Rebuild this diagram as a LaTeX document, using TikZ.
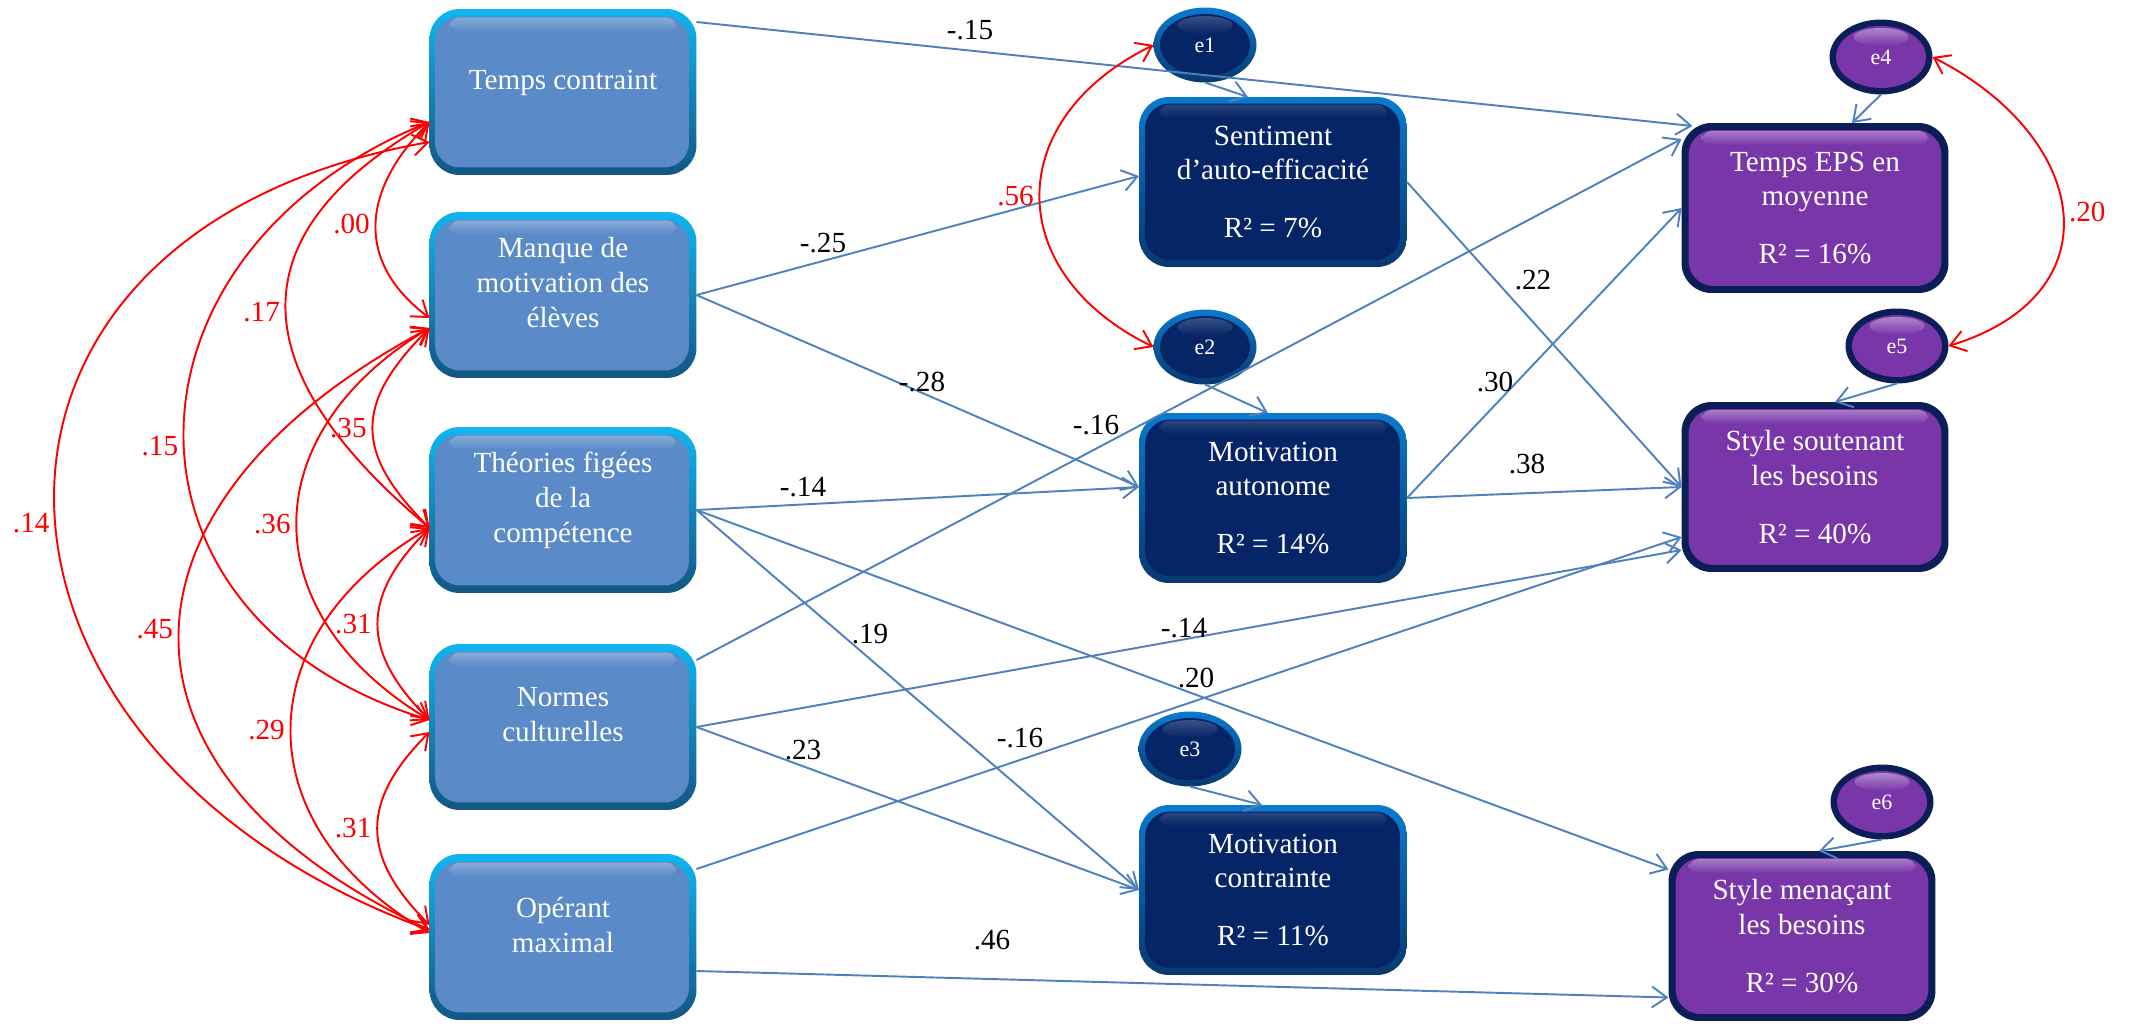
\documentclass[tikz,border=0pt]{standalone}
\usepackage{fontspec}
\setmainfont{Liberation Serif}
\usepackage{tikz}
\usetikzlibrary{arrows.meta,shapes.geometric,positioning}

\definecolor{exofill}{HTML}{5A8AC8}
\definecolor{exotop}{HTML}{10B6F0}
\definecolor{exobot}{HTML}{145683}
\definecolor{medfill}{HTML}{062566}
\definecolor{medtop}{HTML}{0A7ACF}
\definecolor{medbot}{HTML}{09386F}
\definecolor{outfill}{HTML}{7836A8}
\definecolor{outedge}{HTML}{0C1E58}
\definecolor{pathblue}{HTML}{4F81BD}
\definecolor{covred}{HTML}{FF0000}

\newcommand{\bxfont}{\fontsize{16.6}{19.9}\selectfont}
\newcommand{\errfont}{\fontsize{12.5}{14}\selectfont}

\tikzset{>={Straight Barb[length=0.3cm,width=0.42cm]},
  box/.style={rectangle, rounded corners=0.6cm, minimum width=5.34cm, minimum height=3.32cm,
    align=center, text=white, font=\bxfont, inner sep=2pt, outer sep=0pt},
  exo/.style={box, top color=exotop, bottom color=exobot, text depth=0.5cm,
    path picture={
      \fill[exofill, rounded corners=0.5cm] ([shift={(0.11cm,-0.15cm)}]path picture bounding box.north west) rectangle ([shift={(-0.15cm,0.15cm)}]path picture bounding box.south east);
      \shade[top color=exofill!72!white, bottom color=exofill, rounded corners=0.2cm] ([shift={(0.4cm,-0.17cm)}]path picture bounding box.north west) rectangle ([shift={(-0.4cm,-0.45cm)}]path picture bounding box.north east);}},
  med/.style={box, minimum width=5.36cm, minimum height=3.4cm, top color=medtop, bottom color=medbot,
    path picture={
      \fill[medfill, rounded corners=0.5cm] ([shift={(0.12cm,-0.13cm)}]path picture bounding box.north west) rectangle ([shift={(-0.14cm,0.14cm)}]path picture bounding box.south east);
      \shade[top color=medfill!86!white, bottom color=medfill, rounded corners=0.2cm] ([shift={(0.4cm,-0.15cm)}]path picture bounding box.north west) rectangle ([shift={(-0.4cm,-0.43cm)}]path picture bounding box.north east);}},
  res/.style={box, minimum height=3.4cm, fill=outedge,
    path picture={
      \fill[outfill, rounded corners=0.5cm] ([shift={(0.14cm,-0.14cm)}]path picture bounding box.north west) rectangle ([shift={(-0.14cm,0.14cm)}]path picture bounding box.south east);
      \shade[top color=outfill!65!white, bottom color=outfill, rounded corners=0.2cm] ([shift={(0.4cm,-0.16cm)}]path picture bounding box.north west) rectangle ([shift={(-0.4cm,-0.44cm)}]path picture bounding box.north east);}},
  err/.style={ellipse, minimum width=2.06cm, minimum height=1.5cm, inner sep=0pt, outer sep=0pt, text=white, font=\errfont},
  errmed/.style={err, top color=medtop, bottom color=medbot,
    path picture={
      \fill[medfill] (path picture bounding box.center) ellipse [x radius=0.9cm, y radius=0.62cm];
      \shade[top color=medfill!80!white, bottom color=medfill] ([yshift=0.4cm]path picture bounding box.center) ellipse [x radius=0.55cm, y radius=0.18cm];}},
  errres/.style={err, fill=outedge,
    path picture={
      \fill[outfill] (path picture bounding box.center) ellipse [x radius=0.9cm, y radius=0.62cm];
      \shade[top color=outfill!60!white, bottom color=outfill] ([yshift=0.4cm]path picture bounding box.center) ellipse [x radius=0.55cm, y radius=0.18cm];}},
  reg/.style={->, pathblue, line width=1.1pt},
  cov/.style={<->, covred, line width=1.1pt},
  coef/.style={font=\bxfont, inner sep=1pt},
  covlab/.style={font=\bxfont, text=covred, inner sep=3pt}
}

\begin{document}
\begin{tikzpicture}[x=0.02cm, y=-0.02cm]
\useasboundingbox (0,0) rectangle (2134,1024);

% Predictors
\node[exo] (tc) at (563,92) {Temps contraint};
\node[exo] (mm) at (563,295) {Manque de\\motivation des\\élèves};
\node[exo] (tf) at (563,510) {Théories figées\\de la\\compétence};
\node[exo] (nc) at (563,727) {Normes\\culturelles};
\node[exo] (om) at (563,937) {Opérant\\maximal};

% Mediators
\node[med] (sae) at (1273,182) {Sentiment\\d’auto-efficacité\\[0.46cm]R² = 7\%};
\node[med] (ma) at (1273,498) {Motivation\\autonome\\[0.46cm]R² = 14\%};
\node[med] (mc) at (1273,890) {Motivation\\contrainte\\[0.46cm]R² = 11\%};

% Outcomes
\node[res] (eps) at (1815,208) {Temps EPS en\\moyenne\\[0.46cm]R² = 16\%};
\node[res] (sou) at (1815,487) {Style soutenant\\les besoins\\[0.46cm]R² = 40\%};
\node[res] (men) at (1802,936) {Style menaçant\\les besoins\\[0.46cm]R² = 30\%};

% Residuals
\node[errmed] (e1) at (1205,45) {e1};
\node[errmed] (e2) at (1205,347) {e2};
\node[errmed] (e3) at (1190,749) {e3};
\node[errres] (e4) at (1881,57) {e4};
\node[errres] (e5) at (1897,346) {e5};
\node[errres] (e6) at (1882,802) {e6};

% Paths
\draw[reg] ([yshift=1.4cm]tc.east) -- ([xshift=0.22cm,yshift=-0.06cm]eps.north west);
\draw[reg] (mm.east) -- ([yshift=0.12cm]sae.west);
\draw[reg] (mm.east) -- ([yshift=0.22cm]ma.west);
\draw[reg] (tf.east) -- ([yshift=0.22cm]ma.west);
\draw[reg] (tf.east) -- (mc.west);
\draw[reg] (tf.east) -- ([yshift=1.33cm]men.west);
\draw[reg] ([yshift=1.34cm]nc.east) -- ([yshift=1.38cm]eps.west);
\draw[reg] (nc.east) -- ([yshift=-1.26cm]sou.west);
\draw[reg] (nc.east) -- (mc.west);
\draw[reg] ([yshift=1.36cm]om.east) -- ([yshift=-1.0cm]sou.west);
\draw[reg] ([yshift=-0.68cm]om.east) -- ([yshift=-1.23cm]men.west);
\draw[reg] (sae.east) -- (sou.west);
\draw[reg] (ma.east) -- (eps.west);
\draw[reg] (ma.east) -- (sou.west);

\node[coef] (b1) at (970,30) {-.15};
\node[coef] (b2) at (823,243) {-.25};
\node[coef] (b3) at (922,382) {-.28};
\node[coef] (b4) at (803,487) {-.14};
\node[coef] (b5) at (870,634) {.19};
\node[coef] (b6) at (1196,678) {.20};
\node[coef] (b7) at (1096,425) {-.16};
\node[coef] (b8) at (1184,628) {-.14};
\node[coef] (b9) at (803,750) {.23};
\node[coef] (b10) at (1020,738) {-.16};
\node[coef] (b11) at (992,940) {.46};
\node[coef] (b12) at (1533,280) {.22};
\node[coef] (b13) at (1495,382) {.30};
\node[coef] (b14) at (1527,464) {.38};

% Residual paths
\draw[reg] (e1.south) -- ([xshift=-0.5cm]sae.north);
\draw[reg] (e2.south) -- ([xshift=-0.1cm]ma.north);
\draw[reg] (e3.south) -- ([xshift=-0.22cm]mc.north);
\draw[reg] (e4.south) -- ([xshift=0.74cm]eps.north);
\draw[reg] (e5.south) -- ([xshift=0.4cm]sou.north);
\draw[reg] (e6.south) -- ([xshift=0.34cm]men.north);

% Correlations between predictors
\draw[cov] ([yshift=-0.6cm]tc.west) to[out=225,in=143,looseness=1.24] node[covlab,pos=0.5,anchor=east] (r1) {.00} ([yshift=-0.46cm]mm.west);
\draw[cov] ([yshift=-0.6cm]tc.west) to[out=210,in=140,looseness=1.48] node[covlab,pos=0.5,anchor=east] (r2) {.17} ([yshift=-0.36cm]tf.west);
\draw[cov] ([yshift=-0.6cm]tc.west) to[out=202,in=163,looseness=1.49] node[covlab,pos=0.52,anchor=east] (r3) {.15} ([yshift=0.14cm]nc.west);
\draw[cov] ([yshift=-1.0cm]tc.west) to[out=190,in=160,looseness=1.69] node[covlab,pos=0.52,anchor=east] (r4) {.14} ([yshift=0.14cm]om.west);
\draw[cov] ([yshift=-0.66cm]mm.west) to[out=225,in=135,looseness=1.37] node[covlab,pos=0.5,anchor=east] (r5) {.35} ([yshift=-0.36cm]tf.west);
\draw[cov] ([yshift=-0.66cm]mm.west) to[out=211,in=149,looseness=1.35] node[covlab,pos=0.5,anchor=east] (r6) {.36} ([yshift=0.14cm]nc.west);
\draw[cov] ([yshift=-0.66cm]mm.west) to[out=208,in=155,looseness=1.59] node[covlab,pos=0.49,anchor=east] (r7) {.45} ([yshift=0.14cm]om.west);
\draw[cov] ([yshift=-0.36cm]tf.west) to[out=225,in=135,looseness=1.3] node[covlab,pos=0.5,anchor=east] (r8) {.31} ([yshift=0.14cm]nc.west);
\draw[cov] ([yshift=-0.36cm]tf.west) to[out=210,in=150,looseness=1.35] node[covlab,pos=0.5,anchor=east] (r9) {.29} ([yshift=0.08cm]om.west);
\draw[cov] ([yshift=-0.1cm]nc.west) to[out=225,in=135,looseness=1.3] node[covlab,pos=0.5,anchor=east] (r10) {.31} ([yshift=0.24cm]om.west);

% Correlated residuals
\draw[cov] (e1.west) to[out=206,in=154,looseness=1.43] node[covlab,pos=0.5,anchor=east] (r11) {.56} (e2.west);
\draw[cov] (e4.east) to[out=-27,in=17,looseness=1.56] node[covlab,pos=0.5,anchor=west] (r12) {.20} (e5.east);

\end{tikzpicture}
\end{document}
